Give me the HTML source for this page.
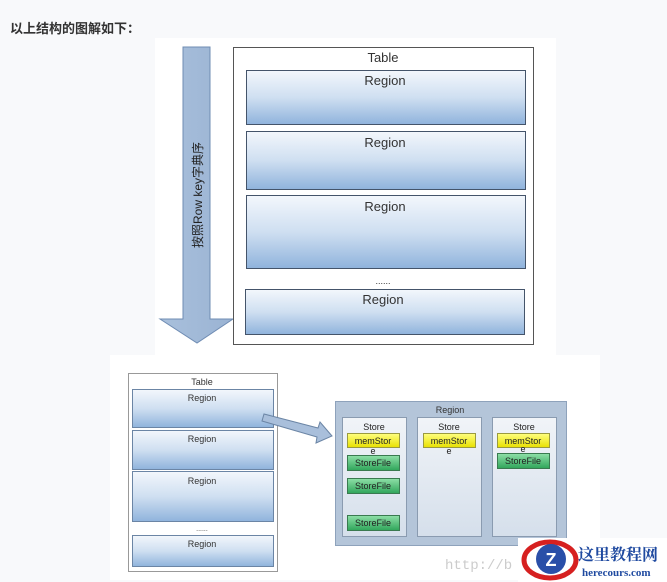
<!DOCTYPE html>
<html><head><meta charset="utf-8"><style>
html,body{margin:0;padding:0;background:#f8f9fb;width:667px;height:582px;overflow:hidden}
svg{position:absolute;left:0;top:0}
text{font-family:"Liberation Sans","DejaVu Sans",sans-serif}
</style></head><body>
<svg width="667" height="582" viewBox="0 0 667 582" xmlns="http://www.w3.org/2000/svg">
<defs>
<linearGradient id="rg" x1="0" y1="0" x2="0" y2="1">
<stop offset="0" stop-color="#f3f7fc"/><stop offset="0.5" stop-color="#cfdff1"/><stop offset="1" stop-color="#8fb3dc"/></linearGradient>
<linearGradient id="ar" x1="0" y1="0" x2="1" y2="0">
<stop offset="0" stop-color="#a9c0dc"/><stop offset="1" stop-color="#9ab3d3"/></linearGradient>
<linearGradient id="st" x1="0" y1="0" x2="0" y2="1">
<stop offset="0" stop-color="#f1f4f8"/><stop offset="1" stop-color="#d5dfeb"/></linearGradient>
<linearGradient id="gr" x1="0" y1="0" x2="0" y2="1">
<stop offset="0" stop-color="#8fe0a8"/><stop offset="1" stop-color="#2fa55a"/></linearGradient>
<linearGradient id="ye" x1="0" y1="0" x2="0" y2="1">
<stop offset="0" stop-color="#ffff80"/><stop offset="1" stop-color="#e8e000"/></linearGradient>
</defs>
<text x="10" y="33" font-size="13" font-weight="bold" fill="#333" style="font-family:'Liberation Sans','Noto Sans CJK SC',sans-serif">以上结构的图解如下：</text>
<!-- top image -->
<rect x="155" y="38" width="401" height="317" fill="#fff"/>
<polygon points="183,47 210,47 210,319 233,319 197,343 160,319 183,319" fill="url(#ar)" stroke="#6f8cb3" stroke-width="1"/>
<text transform="translate(202,195) rotate(-90)" text-anchor="middle" font-size="12" fill="#222" style="font-family:'Liberation Sans','Noto Sans CJK SC',sans-serif">按照Row key字典序</text>
<rect x="233.5" y="47.5" width="300" height="297" fill="#fff" stroke="#555"/>
<text x="383" y="62" text-anchor="middle" font-size="13" fill="#333">Table</text>
<g stroke="#44546a" stroke-width="1">
<rect x="246.5" y="70.5" width="279" height="54" fill="url(#rg)"/>
<rect x="246.5" y="131.5" width="279" height="58" fill="url(#rg)"/>
<rect x="246.5" y="195.5" width="279" height="73" fill="url(#rg)"/>
<rect x="245.5" y="289.5" width="279" height="45" fill="url(#rg)"/>
</g>
<g font-size="13" fill="#333" text-anchor="middle">
<text x="385" y="85">Region</text><text x="385" y="147">Region</text>
<text x="385" y="211">Region</text><text x="383" y="304">Region</text>
<text x="383" y="284" font-size="9">......</text>
</g>
<!-- bottom image -->
<rect x="110" y="355" width="490" height="225" fill="#fff"/>
<rect x="128.5" y="373.5" width="149" height="198" fill="#fff" stroke="#999"/>
<text x="202" y="385" text-anchor="middle" font-size="9" fill="#333">Table</text>
<g stroke="#6b85a5" stroke-width="1">
<rect x="132.5" y="389.5" width="141" height="38" fill="url(#rg)"/>
<rect x="132.5" y="430.5" width="141" height="39" fill="url(#rg)"/>
<rect x="132.5" y="471.5" width="141" height="50" fill="url(#rg)"/>
<rect x="132.5" y="535.5" width="141" height="31" fill="url(#rg)"/>
</g>
<g font-size="9" fill="#333" text-anchor="middle">
<text x="202" y="401">Region</text><text x="202" y="442">Region</text>
<text x="202" y="484">Region</text><text x="202" y="547">Region</text>
<text x="202" y="531" font-size="7">......</text>
</g>
<polygon points="264,414 318,428 320,422 332,436 316,443 317,437 262,421" fill="#a9bfdb" stroke="#6b85a5"/>
<rect x="335.5" y="401.5" width="231" height="144" fill="#b4c5d9" stroke="#8ea2bb"/>
<text x="450" y="413" text-anchor="middle" font-size="9" fill="#333">Region</text>
<g stroke="#8a9bb0">
<rect x="342.5" y="417.5" width="64" height="119" fill="url(#st)"/>
<rect x="417.5" y="417.5" width="64" height="119" fill="url(#st)"/>
<rect x="492.5" y="417.5" width="64" height="119" fill="url(#st)"/>
</g>
<g font-size="9" fill="#222" text-anchor="middle">
<text x="374" y="430">Store</text><text x="449" y="430">Store</text><text x="524" y="430">Store</text>
</g>
<g stroke="#9a9a40">
<rect x="347.5" y="433.5" width="52" height="14" fill="url(#ye)"/>
<rect x="423.5" y="433.5" width="52" height="14" fill="url(#ye)"/>
<rect x="497.5" y="433.5" width="52" height="14" fill="url(#ye)"/>
</g>
<g stroke="#3a7a50">
<rect x="347.5" y="455.5" width="52" height="15" fill="url(#gr)"/>
<rect x="347.5" y="478.5" width="52" height="15" fill="url(#gr)"/>
<rect x="347.5" y="515.5" width="52" height="15" fill="url(#gr)"/>
<rect x="497.5" y="453.5" width="52" height="15" fill="url(#gr)"/>
</g>
<g font-size="9" fill="#222" text-anchor="middle">
<text x="373" y="444">memStor</text><text x="449" y="444">memStor</text><text x="523" y="444">memStor</text>
<text x="373" y="454">e</text><text x="449" y="454">e</text><text x="523" y="452">e</text>
<text x="373" y="466">StoreFile</text><text x="373" y="489">StoreFile</text>
<text x="373" y="526">StoreFile</text><text x="523" y="464">StoreFile</text>
</g>
<text x="445" y="569" font-size="14" fill="#ccc" style="font-family:'Liberation Mono',monospace">http://b</text>
<!-- logo -->
<rect x="518" y="538" width="149" height="44" fill="#fff"/>
<ellipse cx="550" cy="560" rx="26" ry="18" fill="none" stroke="#d62020" stroke-width="5"/>
<circle cx="551" cy="559" r="15" fill="#2a4fa8"/>
<text x="551" y="566" text-anchor="middle" font-size="18" font-weight="bold" fill="#fff">Z</text>
<text x="578" y="560" font-size="16" font-weight="bold" fill="#1f4aa0" style="font-family:'Noto Serif CJK SC','Liberation Serif',serif">这里教程网</text>
<text x="582" y="576" font-size="11" font-weight="bold" fill="#1f4aa0" style="font-family:'Liberation Serif',serif">herecours.com</text>
</svg>
</body></html>
